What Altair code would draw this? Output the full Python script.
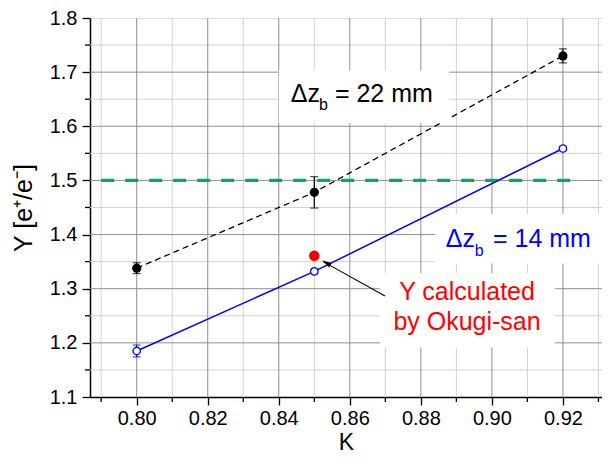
import altair as alt
import pandas as pd

# ---- data ----
K = [0.80, 0.85, 0.92]
Y22 = [1.338, 1.478, 1.730]
E22 = [0.010, 0.029, 0.013]
Y14 = [1.185, 1.332, 1.559]
E14 = [0.011, 0.004, 0.004]
RED_K = [0.850]
RED_Y = [1.361]
GREEN_K = [0.790, 0.925]
GREEN_Y = [1.5, 1.5]

X_MAJOR = [0.80, 0.82, 0.84, 0.86, 0.88, 0.90, 0.92]
X_MINOR = [0.79, 0.81, 0.83, 0.85, 0.87, 0.89, 0.91, 0.93]
Y_MAJOR = [1.1, 1.2, 1.3, 1.4, 1.5, 1.6, 1.7, 1.8]
Y_GRID = [1.2, 1.3, 1.4, 1.5, 1.6, 1.7]
Y_MINOR = [1.15, 1.25, 1.35, 1.45, 1.55, 1.65, 1.75]

X_DOMAIN = [0.78685, 0.931]
Y_DOMAIN = [1.1, 1.8]

W, H = 512, 379
FONT = "Liberation Sans"

xs = alt.Scale(domain=X_DOMAIN, zero=False, nice=False)
ys = alt.Scale(domain=Y_DOMAIN, zero=False, nice=False)

XAXIS = alt.Axis(values=X_MAJOR, format=".2f", grid=False,
                 tickSize=8, tickColor="black", tickWidth=1.3,
                 domainColor="black", domainWidth=1.5, labelFontSize=20,
                 labelFont=FONT, labelColor="black", labelPadding=3,
                 titleFont=FONT, titleFontSize=23, titleFontWeight="normal",
                 titleColor="black", titleY=52, titleBaseline="alphabetic")
YAXIS = alt.Axis(values=Y_MAJOR, format=".1f", grid=False,
                 tickSize=8, tickColor="black", tickWidth=1.3,
                 domainColor="black", domainWidth=1.5, labelFontSize=20,
                 labelFont=FONT, labelColor="black", labelPadding=5,
                 titleFont=FONT, titleFontSize=25, titleFontWeight="normal",
                 titleColor="black", titlePadding=13)


def X(field):
    return alt.X(field, scale=xs, axis=XAXIS, title="K")


def Y(field):
    return alt.Y(field, scale=ys, axis=YAXIS, title="Y [e⁺/e⁻]")


d22 = pd.DataFrame({"K": K, "Y": Y22, "lo": [y - e for y, e in zip(Y22, E22)],
                    "hi": [y + e for y, e in zip(Y22, E22)]})
d14 = pd.DataFrame({"K": K, "Y": Y14, "lo": [y - e for y, e in zip(Y14, E14)],
                    "hi": [y + e for y, e in zip(Y14, E14)]})
dred = pd.DataFrame({"K": RED_K, "Y": RED_Y})
dgreen = pd.DataFrame({"K": GREEN_K, "Y": GREEN_Y})

xminor = pd.DataFrame({"K": X_MINOR})
yminor = pd.DataFrame({"Y": Y_MINOR})
xmajor = pd.DataFrame({"K": X_MAJOR})
ygrid = pd.DataFrame({"Y": Y_GRID})
xgrid_minor = alt.Chart(xminor).mark_rule(color="#d2d2d2", strokeWidth=1).encode(
    x=X("K:Q"), y=alt.value(0), y2=alt.value(H))
ygrid_minor = alt.Chart(yminor).mark_rule(color="#d2d2d2", strokeWidth=1).encode(
    y=Y("Y:Q"), x=alt.value(0), x2=alt.value(W))
xgrid_major = alt.Chart(xmajor).mark_rule(color="#8f8f8f", strokeWidth=1).encode(
    x=X("K:Q"), y=alt.value(0), y2=alt.value(H))
ygrid_major = alt.Chart(ygrid).mark_rule(color="#8f8f8f", strokeWidth=1).encode(
    y=Y("Y:Q"), x=alt.value(0), x2=alt.value(W))
xtick_minor = alt.Chart(xminor).mark_rule(color="black", strokeWidth=1.3).encode(
    x=X("K:Q"), y=alt.value(H), y2=alt.value(H + 5))
ytick_minor = alt.Chart(yminor).mark_rule(color="black", strokeWidth=1.3).encode(
    y=Y("Y:Q"), x=alt.value(0), x2=alt.value(-5))

green = alt.Chart(dgreen).mark_line(color="#00b050", strokeWidth=3.2,
                                    strokeDash=[13, 11]).encode(x=X("K:Q"), y=Y("Y:Q"))

line22 = alt.Chart(d22).mark_line(color="black", strokeWidth=1.3,
                                  strokeDash=[6, 4]).encode(x=X("K:Q"), y=Y("Y:Q"))
line14 = alt.Chart(d14).mark_line(color="#0000ff", strokeWidth=1.5).encode(
    x=X("K:Q"), y=Y("Y:Q"))


def errbars(df, color):
    bar = alt.Chart(df).mark_rule(color=color, strokeWidth=1.2).encode(
        x=X("K:Q"), y=Y("lo:Q"), y2="hi:Q")
    caplo = alt.Chart(df).mark_tick(color=color, orient="horizontal", size=8,
                                    thickness=1.2).encode(x=X("K:Q"), y=Y("lo:Q"))
    caphi = alt.Chart(df).mark_tick(color=color, orient="horizontal", size=8,
                                    thickness=1.2).encode(x=X("K:Q"), y=Y("hi:Q"))
    return bar + caplo + caphi


pts22 = alt.Chart(d22).mark_point(shape="circle", filled=True, color="black",
                                  size=85, opacity=1).encode(x=X("K:Q"), y=Y("Y:Q"))
pts14 = alt.Chart(d14).mark_point(shape="circle", fill="white", stroke="#0000ff",
                                  strokeWidth=1.3, size=55, opacity=1,
                                  fillOpacity=1).encode(x=X("K:Q"), y=Y("Y:Q"))
red = alt.Chart(dred).mark_point(shape="circle", filled=True, color="#ee0000",
                                 size=110, opacity=1).encode(x=X("K:Q"), y=Y("Y:Q"))

# annotation boxes (white background behind labels)
boxes = pd.DataFrame({
    "x1": [0.840, 0.884, 0.8685],
    "x2": [0.888, 0.931, 0.9177],
    "y1": [1.606, 1.3467, 1.1913],
    "y2": [1.703, 1.4381, 1.3284],
})
box = alt.Chart(boxes).mark_rect(fill="white").encode(
    x=X("x1:Q"), x2="x2:Q", y=Y("y1:Q"), y2="y2:Q")

labels = pd.DataFrame({
    "x": [0.8434, 0.8558, 0.8870, 0.9003],
    "y": [1.6446, 1.6446, 1.3778, 1.3778],
    "t": ["Δz", "= 22 mm", "Δz", "= 14 mm"],
    "c": ["black", "black", "#0000ff", "#0000ff"],
})
subs = pd.DataFrame({
    "x": [0.8513, 0.8952],
    "y": [1.630, 1.3613],
    "t": ["b", "b"],
    "c": ["black", "#0000ff"],
})
txt = alt.Chart(labels).mark_text(align="left", baseline="alphabetic", font=FONT,
                                  fontSize=25).encode(
    x=X("x:Q"), y=Y("y:Q"), text="t:N", color=alt.Color("c:N", scale=None))
subtxt = alt.Chart(subs).mark_text(align="left", baseline="alphabetic", font=FONT,
                                   fontSize=16).encode(
    x=X("x:Q"), y=Y("y:Q"), text="t:N", color=alt.Color("c:N", scale=None))

redtext = pd.DataFrame({"x": [0.8930, 0.8930], "y": [1.2791, 1.2242],
                        "t": ["Y calculated", "by Okugi-san"]})
rtxt = alt.Chart(redtext).mark_text(align="center", baseline="alphabetic", font=FONT,
                                    fontSize=25, color="#ff0000").encode(
    x=X("x:Q"), y=Y("y:Q"), text="t:N")

arrow = pd.DataFrame({"x": [0.8699], "y": [1.2864], "x2": [0.8525], "y2": [1.3500]})
arrow_line = alt.Chart(arrow).mark_rule(color="black", strokeWidth=1.1).encode(
    x=X("x:Q"), y=Y("y:Q"), x2="x2:Q", y2="y2:Q")
head = pd.DataFrame({"x": [0.8534], "y": [1.3476]})
arrow_head = alt.Chart(head).mark_point(shape="M0,-1L0.55,1L-0.55,1Z", filled=True,
                                        color="black", size=90, angle=300,
                                        opacity=1).encode(x=X("x:Q"), y=Y("y:Q"))

chart = alt.layer(
    xgrid_minor, ygrid_minor, xgrid_major, ygrid_major, xtick_minor, ytick_minor,
    green, line22, line14,
    errbars(d22, "black"), errbars(d14, "#0000ff"),
    pts22, pts14, red,
    box, txt, subtxt, rtxt, arrow_line, arrow_head,
).properties(
    width=W, height=H,
    autosize=alt.AutoSizeParams(type="none"),
    padding={"left": 82, "top": 10, "right": 0, "bottom": 57},
).configure_view(stroke=None).configure(background="white")

chart.save("out.html", embed_options={"renderer": "svg", "actions": False})
